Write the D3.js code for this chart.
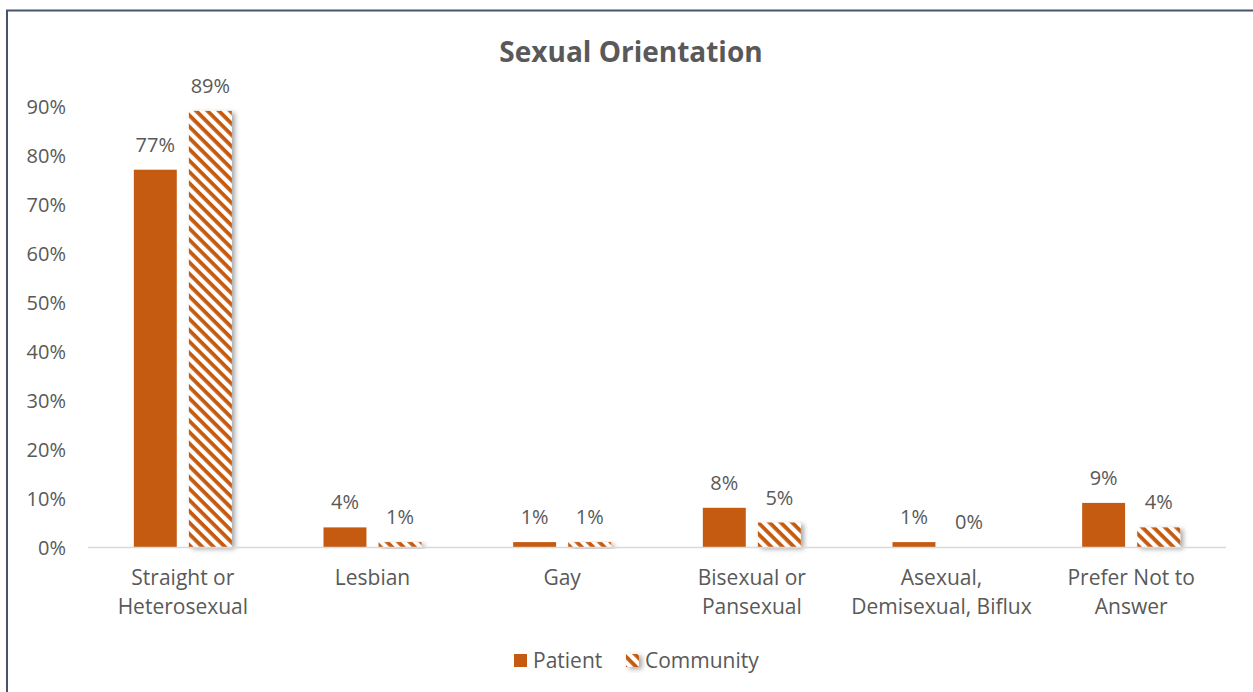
<!DOCTYPE html>
<html>
<head>
<meta charset="utf-8">
<script src="https://cdn.jsdelivr.net/npm/d3@7"></script>
<style>
  html, body { margin: 0; padding: 0; background: #fff; }
  svg { display: block; }
  text { font-family: "Open Sans", "Noto Sans", sans-serif; fill: #595959; }
</style>
</head>
<body>
<svg id="chart" width="1253" height="692"></svg>
<script>
// Survey categories (two-line labels)
const categories = [
  ["Straight or", "Heterosexual"],
  ["Lesbian"],
  ["Gay"],
  ["Bisexual or", "Pansexual"],
  ["Asexual,", "Demisexual, Biflux"],
  ["Prefer Not to", "Answer"]
];
const seriesNames = ["Patient", "Community"];
const patientValues = [77, 4, 1, 8, 1, 9];
const communityValues = [89, 1, 1, 5, 0, 4];
const yTicks = [0, 10, 20, 30, 40, 50, 60, 70, 80, 90];

const orange = "#c55a11";
const svg = d3.select("#chart");
const W = 1253, H = 692;

const defs = svg.append("defs");
// diagonal stripe fill for the Community series
const pat = defs.append("pattern")
  .attr("id", "stripes")
  .attr("patternUnits", "userSpaceOnUse")
  .attr("width", 8).attr("height", 8)
  .attr("patternTransform", "rotate(45)");
pat.append("rect").attr("width", 8).attr("height", 8).attr("fill", "#fff");
pat.append("rect").attr("x", 0).attr("y", 0).attr("width", 8).attr("height", 3.8).attr("fill", orange);

const shadow = defs.append("filter").attr("id", "shadow")
  .attr("x", "-20%").attr("y", "-20%").attr("width", "160%").attr("height", "160%");
shadow.append("feDropShadow")
  .attr("dx", 3).attr("dy", 2).attr("stdDeviation", 2.5)
  .attr("flood-color", "#000").attr("flood-opacity", 0.35);

// chart frame
svg.append("rect")
  .attr("x", 7).attr("y", 10.5).attr("width", W + 10).attr("height", H + 10)
  .attr("fill", "none").attr("stroke", "#44546a").attr("stroke-width", 2);

// title
svg.append("text")
  .attr("x", 631).attr("y", 62)
  .attr("text-anchor", "middle")
  .style("font-size", "28px").style("font-weight", "bold")
  .text("Sexual Orientation");

const plot = { left: 88, right: 1226, top: 106, bottom: 547 };

const x0 = d3.scaleBand()
  .domain(d3.range(categories.length))
  .range([plot.left, plot.right]);
const x1 = d3.scaleBand()
  .domain(seriesNames)
  .range([x0.bandwidth() / 2 - 49, x0.bandwidth() / 2 + 49])
  .paddingInner(0.22);
const y = d3.scaleLinear().domain([0, 90]).range([plot.bottom, plot.top]);

const fsNum = "20px";
const fs = "21px";

// y axis labels
const yAxis = d3.axisLeft(y).tickValues(yTicks).tickFormat(d => d + "%").tickSize(0).tickPadding(0);
const yg = svg.append("g").attr("transform", `translate(66,0)`).call(yAxis);
yg.select(".domain").remove();
yg.selectAll("text").style("font-size", fsNum).attr("fill", "#595959").attr("dy", "0.35em");

const rows = categories.map((c, i) => ({
  i, values: [
    { s: "Patient", v: patientValues[i] },
    { s: "Community", v: communityValues[i] }
  ]
}));

const groups = svg.selectAll("g.cat").data(rows).join("g")
  .attr("class", "cat")
  .attr("transform", d => `translate(${x0(d.i)},0)`);

groups.selectAll("rect.bar").data(d => d.values).join("rect")
  .attr("class", "bar")
  .attr("x", d => x1(d.s))
  .attr("width", x1.bandwidth())
  .attr("y", d => y(d.v))
  .attr("height", d => plot.bottom - y(d.v))
  .attr("fill", d => d.s === "Patient" ? orange : "url(#stripes)")
  .attr("filter", d => d.s === "Community" && d.v > 0 ? "url(#shadow)" : null);

groups.selectAll("text.val").data(d => d.values).join("text")
  .attr("class", "val")
  .attr("x", d => x1(d.s) + x1.bandwidth() / 2)
  .attr("y", d => y(d.v) - 18)
  .attr("text-anchor", "middle")
  .style("font-size", fsNum)
  .text(d => d.v + "%");

// baseline
svg.append("line")
  .attr("x1", plot.left).attr("x2", plot.right)
  .attr("y1", plot.bottom + 0.5).attr("y2", plot.bottom + 0.5)
  .attr("stroke", "#d9d9d9").attr("stroke-width", 1.5);

// category labels
const xg = svg.append("g").attr("transform", `translate(0,${plot.bottom})`)
  .call(d3.axisBottom(x0).tickSize(0).tickFormat(() => ""));
xg.select(".domain").remove();
xg.selectAll(".tick").each(function(i) {
  const t = d3.select(this).append("text")
    .attr("text-anchor", "middle")
    .attr("y", 38)
    .style("font-size", fs);
  categories[i].forEach((line, k) => {
    t.append("tspan").attr("x", 0).attr("dy", k === 0 ? 0 : 29).text(line);
  });
});

// legend
const legend = svg.append("g").attr("transform", "translate(514,654)");
const items = [
  { name: "Patient", fill: orange, x: 0 },
  { name: "Community", fill: "url(#stripes)", x: 112 }
];
items.forEach(it => {
  const g = legend.append("g").attr("transform", `translate(${it.x},0)`);
  g.append("rect").attr("width", 13).attr("height", 13).attr("fill", it.fill)
    .attr("filter", it.name === "Community" ? "url(#shadow)" : null);
  g.append("text").attr("x", 19).attr("y", 7).attr("dy", "0.35em")
    .style("font-size", fs).text(it.name);
});
</script>
</body>
</html>
